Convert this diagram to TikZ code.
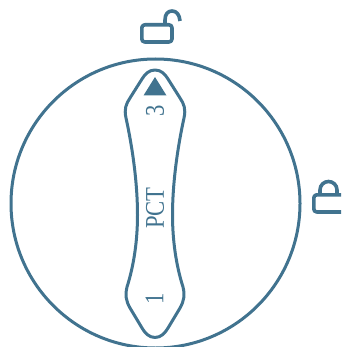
\documentclass[tikz,border=0pt]{standalone}
\usepackage{fontspec}
\setmainfont{Liberation Serif}
\definecolor{dialblue}{HTML}{41738F}
\tikzset{
  dialline/.style={draw=dialblue, line width=3pt, line join=round},
  lockline/.style={draw=dialblue, line width=3.6pt, line join=round},
  dialtext/.style={text=dialblue, inner sep=0pt, rotate=90, xscale=0.84,
                   font=\fontsize{27}{27}\selectfont}
}
\begin{document}
\begin{tikzpicture}[x=1pt, y=-1pt]
  \useasboundingbox (0,0) rectangle (341,347);
  \clip (0,0) rectangle (341,347);
  % dial and handle
  \node[circle, dialline, inner sep=0pt, minimum size=289pt] (dial) at (155.5,203.5) {};
  \draw[dialline] (155,70) .. controls (161,70) and (165,74) .. (168,79)
    -- (180,98) .. controls (184,104) and (186,109) .. (184,118)
    .. controls (177,150) and (172.5,185) .. (172.5,215)
    .. controls (172.5,240) and (176,265) .. (183,287)
    .. controls (185,295) and (184,301) .. (180,308)
    -- (168,328) .. controls (165,333) and (161,337.5) .. (155,337.5)
    .. controls (149,337.5) and (145,333) .. (142,328)
    -- (130,308) .. controls (126,301) and (125,295) .. (127,287)
    .. controls (134,265) and (137.5,240) .. (137.5,215)
    .. controls (137.5,185) and (133,150) .. (126,118)
    .. controls (124,109) and (126,104) .. (130,98)
    -- (142,79) .. controls (145,74) and (149,70) .. (155,70) -- cycle;
  \fill[dialblue, line join=round] (155,77) -- (166.5,95.5) -- (143.5,95.5) -- cycle;
  \node[dialtext] (three) at (155,111) {3};
  \node[dialtext] (pct)   at (155,208) {PCT};
  \node[dialtext] (one)   at (154.5,299) {1};
  % open lock
  \draw[lockline, rounded corners=3pt] (141.8,24.8) rectangle (172,42);
  \draw[lockline] (165,24) -- (165,20) .. controls (165,14) and (168,11) .. (172,11)
    .. controls (176.5,11) and (179.5,14.5) .. (180,21);
  % closed lock
  \draw[lockline, rounded corners=3pt] (313.8,194.8) rectangle (346,212);
  \draw[lockline] (320,194) -- (320,190) .. controls (320,185) and (324,181.5) .. (328.5,181.5)
    .. controls (333,181.5) and (337,185) .. (337,190) -- (337,194);
\end{tikzpicture}
\end{document}
